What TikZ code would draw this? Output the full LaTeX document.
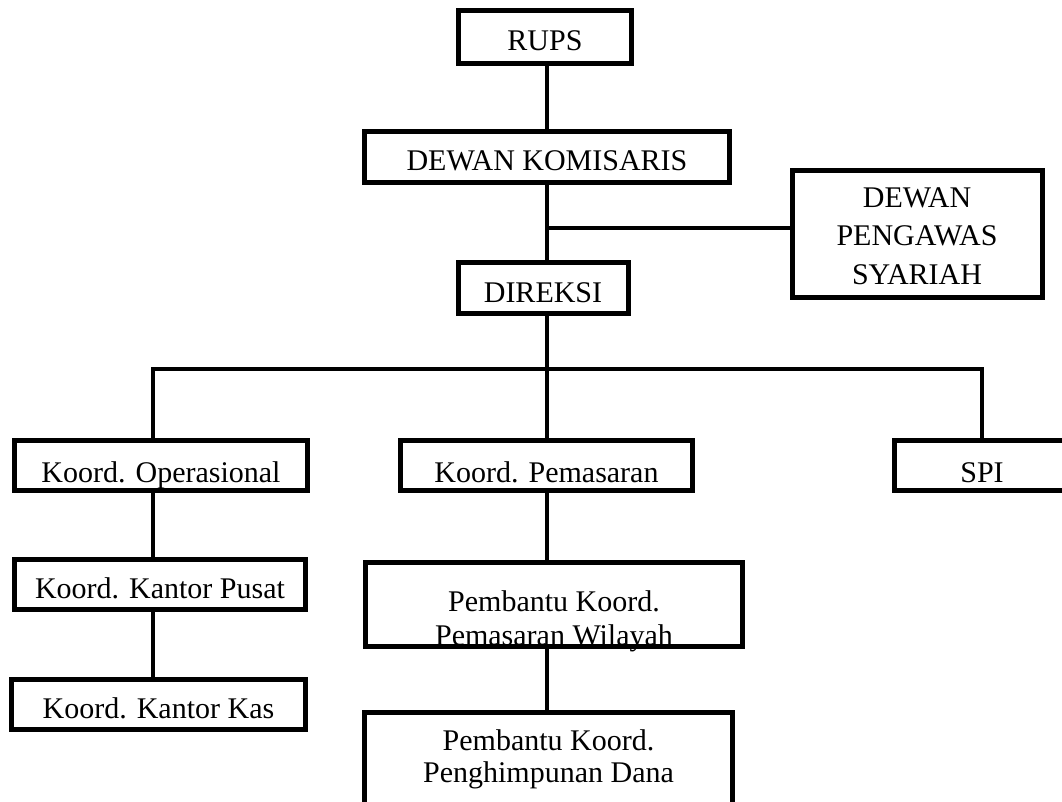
\documentclass[tikz,border=0pt]{standalone}
\usepackage{fontspec}
\setmainfont{Liberation Serif}
\begin{document}
\begin{tikzpicture}[x=1pt,y=-1pt,
  box/.style={draw, line width=5pt, inner sep=0pt, outer sep=0pt, fill=white,
    font=\fontsize{30}{34}\selectfont, text height=28pt, text depth=0pt},
  edgeover/.style={line width=5pt},
  conn/.style={line width=3.5pt}]
\useasboundingbox (0,0) rectangle (1062,802);
\clip (0,0) rectangle (1062,802);
% boxes
\node[box, minimum width=173pt, minimum height=53pt] (rups) at (545,37) {RUPS};
\node[box, minimum width=365pt, minimum height=51pt] (dk) at (547,157) {DEWAN KOMISARIS};
\node[box, minimum width=250pt, minimum height=127pt, text height=100pt,
  font=\fontsize{30}{38.5}\selectfont] (dps) at (917,234)
  {\begin{tabular}[b]{@{}c@{}}DEWAN\\PENGAWAS\\SYARIAH\end{tabular}};
\node[box, minimum width=170pt, minimum height=51pt] (dir) at (543,288) {DIREKSI};
\node[box, minimum width=293pt, minimum height=50pt, text height=33pt] (op) at (161,465.5) {Koord. Operasional};
\node[box, minimum width=292pt, minimum height=50pt, text height=33pt] (pem) at (546.5,465.5) {Koord. Pemasaran};
\node[box, minimum width=175pt, minimum height=50pt, text height=33pt] (spi) at (982,465.5) {SPI};
\node[box, minimum width=291pt, minimum height=50pt] (kp) at (160,584.5) {Koord. Kantor Pusat};
\node[box, minimum width=294pt, minimum height=50pt] (kas) at (158.5,704.5) {Koord. Kantor Kas};
\node[box, minimum width=377pt, minimum height=84pt, text height=81pt] (pkpw) at (554,604.5)
  {\begin{tabular}[b]{@{}c@{}}Pembantu Koord.\\Pemasaran Wilayah\end{tabular}};
\node[box, minimum width=368pt, minimum height=115pt, text height=24pt,
  font=\fontsize{30}{32}\selectfont] (pkpd) at (548.5,770)
  {\begin{tabular}[b]{@{}c@{}}Pembantu Koord.\\Penghimpunan Dana\end{tabular}};
% bottom borders that cover the descenders
\draw[edgeover] (op.south west) -- (op.south east);
\draw[edgeover] (pkpw.south west) -- (pkpw.south east);
% junctions
\coordinate (jd) at (547,228);
\coordinate (jh) at (547,369);
\coordinate (jl) at (153,369);
\coordinate (jr) at (982,369);
% connectors
\draw[conn] (jd |- rups.south) -- (jd |- dk.north);
\draw[conn] (jd |- dk.south) -- (jd |- dir.north);
\draw[conn] (jd) -- (jd -| dps.west);
\draw[conn] (jh |- dir.south) -- (jh);
\draw[conn] (jl |- op.north) -- (jl) -- (jr) -- (jr |- spi.north);
\draw[conn] (jh) -- (jh |- pem.north);
\draw[conn] (jl |- op.south) -- (jl |- kp.north);
\draw[conn] (jl |- kp.south) -- (jl |- kas.north);
\draw[conn] (jh |- pem.south) -- (jh |- pkpw.north);
\draw[conn] (jh |- pkpw.south) -- (jh |- pkpd.north);
\end{tikzpicture}
\end{document}
